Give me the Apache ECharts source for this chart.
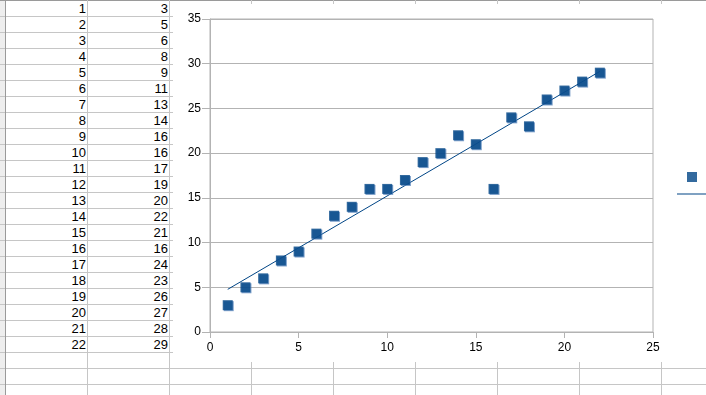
<!DOCTYPE html>
<html><head><meta charset="utf-8">
<script src="https://cdn.jsdelivr.net/npm/echarts@6/dist/echarts.min.js"></script>
<style>
html,body{margin:0;padding:0;background:#fff;}
#page{position:relative;width:706px;height:395px;overflow:hidden;font-family:"Liberation Sans",Arial,sans-serif;background:#fff;}
.hl{position:absolute;left:0;width:706px;height:1px;background:#c6c6c6;}
.vl{position:absolute;top:0;width:1px;height:395px;background:#c6c6c6;}
.cell{position:absolute;height:16px;line-height:17px;font-size:13px;text-align:right;color:#000;}
#hdr{position:absolute;left:0;top:0;width:5px;height:395px;background:#eeeeee;}
#chart{position:absolute;left:173px;top:4px;width:700px;height:358px;background:#fff;}
</style></head>
<body>
<div id="page"><div id="hdr"></div><div id="chart"></div></div>
<script>
// ---- data ----
const xValues = [1,2,3,4,5,6,7,8,9,10,11,12,13,14,15,16,17,18,19,20,21,22];
const yValues = [3,5,6,8,9,11,13,14,16,16,17,19,20,22,21,16,24,23,26,27,28,29];
const seriesName = 'Column B';
const trendName = 'Linear (Column B)';

// ---- spreadsheet background ----
const page = document.getElementById('page');
const chartEl = document.getElementById('chart');
for (let k = 0; k <= 25; k++) {
  const d = document.createElement('div');
  d.className = 'hl';
  d.style.top = (k * 16) + 'px';
  if (k === 0) d.style.background = '#9a9a9a';
  page.insertBefore(d, chartEl);
}
[5, 87, 169, 251, 333, 415, 497, 579, 661].forEach((x, i) => {
  const d = document.createElement('div');
  d.className = 'vl';
  d.style.left = x + 'px';
  if (i === 0) d.style.background = '#9a9a9a';
  page.insertBefore(d, chartEl);
});
xValues.forEach((x, i) => {
  const a = document.createElement('div');
  a.className = 'cell'; a.style.left = '6px'; a.style.width = '80px'; a.style.top = (i * 16) + 'px';
  a.textContent = x;
  page.insertBefore(a, chartEl);
  const b = document.createElement('div');
  b.className = 'cell'; b.style.left = '88px'; b.style.width = '80px'; b.style.top = (i * 16) + 'px';
  b.textContent = yValues[i];
  page.insertBefore(b, chartEl);
});

// ---- linear trend line (least squares fit of the data) ----
const n = xValues.length;
const mx = xValues.reduce((s, v) => s + v, 0) / n;
const my = yValues.reduce((s, v) => s + v, 0) / n;
let sxy = 0, sxx = 0;
for (let i = 0; i < n; i++) { sxy += (xValues[i] - mx) * (yValues[i] - my); sxx += (xValues[i] - mx) ** 2; }
const slope = sxy / sxx, icpt = my - slope * mx;
const xMin = Math.min(...xValues), xMax = Math.max(...xValues);
const trend = [[xMin, icpt + slope * xMin], [xMax, icpt + slope * xMax]];

const chart = echarts.init(chartEl);
const gray = '#b3b3b3';
const font = 'Liberation Sans';
chart.setOption({
  animation: false,
  backgroundColor: '#fff',
  grid: {left: 37, top: 15, width: 443, height: 313, show: true, borderColor: gray, borderWidth: 1},
  xAxis: {
    type: 'value', min: 0, max: 25, interval: 5,
    axisLine: {show: true, lineStyle: {color: gray}},
    axisTick: {show: true, length: 6, lineStyle: {color: gray}},
    axisLabel: {color: '#000', fontSize: 12, margin: 10, fontFamily: font},
    splitLine: {show: false}
  },
  yAxis: {
    type: 'value', min: 0, max: 35, interval: 5,
    axisLine: {show: true, lineStyle: {color: gray}},
    axisTick: {show: true, length: 8, lineStyle: {color: gray}},
    axisLabel: {color: '#000', fontSize: 12, margin: 9, fontFamily: font},
    splitLine: {show: true, lineStyle: {color: gray}}
  },
  legend: [
    {data: [{name: seriesName, icon: 'rect'}], left: 514, top: 167, padding: 0, itemWidth: 10, itemHeight: 10,
     textStyle: {fontSize: 12, lineHeight: 10, fontFamily: font, padding: [0, 0, 0, 20], color: '#000'}},
    {data: [{name: trendName, icon: 'rect'}], left: 504, top: 184, padding: 0, itemWidth: 40, itemHeight: 1,
     textStyle: {fontSize: 12, lineHeight: 10, fontFamily: font, padding: [0, 0, 0, 20], color: '#000'}}
  ],
  series: [
    {type: 'scatter', name: seriesName, data: xValues.map((x, i) => [x, yValues[i]]),
     symbol: 'rect', symbolSize: 10,
     itemStyle: {color: '#004586', shadowColor: 'rgba(70,120,180,0.9)', shadowOffsetX: 1, shadowOffsetY: 1, shadowBlur: 0}},
    {type: 'line', name: trendName, data: trend, symbol: 'none', z: 1,
     lineStyle: {color: '#004586', width: 1}, itemStyle: {color: '#004586'}}
  ]
});
</script>
</body></html>
